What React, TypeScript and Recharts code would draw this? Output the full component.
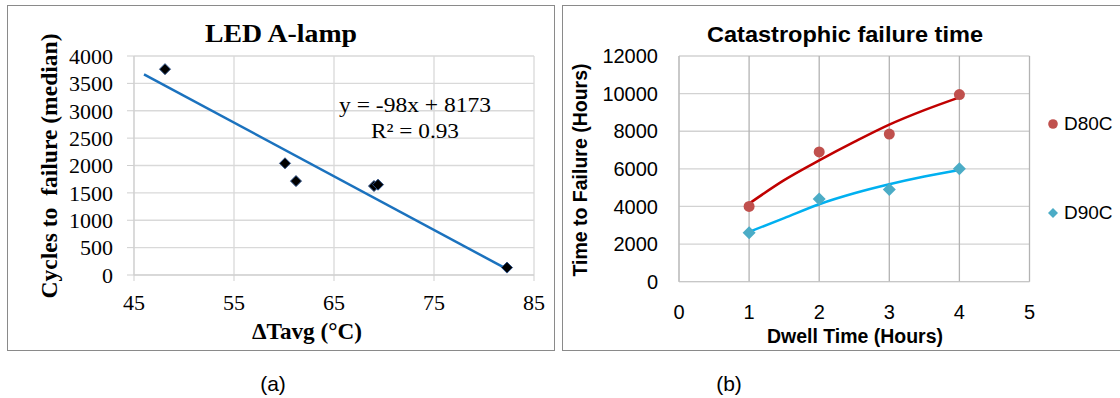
import React from "react";
import {
    ScatterChart,
    Scatter,
    XAxis,
    YAxis,
    CartesianGrid,
    Legend,
    Customized,
} from "recharts";

// (a) LED A-lamp
const deltaTavg = [48.1, 60.1, 61.2, 69.0, 69.4, 82.3];
const cyclesToFailure = [3760, 2040, 1715, 1625, 1650, 135];
const fitDeltaT = [46, 82.3];
const fitCycles = [3665, 107];
const ticksA_x = [45, 55, 65, 75, 85];
const ticksA_y = [0, 500, 1000, 1500, 2000, 2500, 3000, 3500, 4000];

// (b) Catastrophic failure time
const dwellHours = [1, 2, 3, 4];
const d80c = [4000, 6900, 7850, 9950];
const d90c = [2600, 4400, 4900, 6000];
const trendHours = [1, 1.5, 2, 2.5, 3, 3.5, 4];
const d80cTrend = [4150, 5400, 6450, 7430, 8350, 9120, 9800];
const d90cTrend = [2650, 3380, 4120, 4700, 5180, 5590, 5940];
const ticksB_x = [0, 1, 2, 3, 4, 5];
const ticksB_y = [0, 2000, 4000, 6000, 8000, 10000, 12000];

const SERIF = '"Liberation Serif", "Times New Roman", serif';
const SANS = '"Liberation Sans", Arial, sans-serif';

const zip = (xs: number[], ys: number[]) => xs.map((x, i) => ({ x, y: ys[i] }));

const ledData = zip(deltaTavg, cyclesToFailure);
const ledFit = zip(fitDeltaT, fitCycles);
const d80cData = zip(dwellHours, d80c);
const d90cData = zip(dwellHours, d90c);
const d80cLine = zip(trendHours, d80cTrend);
const d90cLine = zip(trendHours, d90cTrend);

const diamond = (r: number, fill: string, stroke?: string) => (props: any) => {
    const { cx, cy } = props;
    return (
        <path
            d={`M${cx},${cy - r}L${cx + r},${cy}L${cx},${cy + r}L${cx - r},${cy}Z`}
            fill={fill}
            stroke={stroke || "none"}
            strokeWidth={1}
        />
    );
};

const dot = (r: number, fill: string) => (props: any) => (
    <circle cx={props.cx} cy={props.cy} r={r} fill={fill} />
);

const noShape = () => <g />;

const TextsA = () => (
    <g fontFamily={SERIF} fill="#000">
        <text x={274} y={37} textAnchor="middle" fontSize={26} fontWeight="bold"
            textLength={152} lengthAdjust="spacingAndGlyphs">LED A-lamp</text>
        <text transform="translate(50,161) rotate(-90)" textAnchor="middle" fontSize={24}
            fontWeight="bold" style={{ whiteSpace: "pre" }} textLength={265}
            lengthAdjust="spacingAndGlyphs">Cycles to  failure (median)</text>
        <text x={300} y={334} textAnchor="middle" fontSize={23} fontWeight="bold"
            textLength={110} lengthAdjust="spacingAndGlyphs">ΔTavg (°C)</text>
        <text x={408} y={107} textAnchor="middle" fontSize={21}
            textLength={152} lengthAdjust="spacingAndGlyphs">y = -98x + 8173</text>
        <text x={408} y={133} textAnchor="middle" fontSize={21}
            textLength={88} lengthAdjust="spacingAndGlyphs">R² = 0.93</text>
    </g>
);

const TextsB = () => (
    <g fontFamily={SANS} fill="#000" fontWeight="bold">
        <text x={283} y={37} textAnchor="middle" fontSize={22}
            textLength={276} lengthAdjust="spacingAndGlyphs">Catastrophic failure time</text>
        <text transform="translate(25,165) rotate(-90)" textAnchor="middle" fontSize={20}
            textLength={213} lengthAdjust="spacingAndGlyphs">Time to Failure (Hours)</text>
        <text x={293} y={338} textAnchor="middle" fontSize={20}
            textLength={176} lengthAdjust="spacingAndGlyphs">Dwell Time (Hours)</text>
    </g>
);

const LegendB = (props: any) => {
    const items = (props.payload || []).filter((p: any) => p.type !== "none");
    return (
        <div style={{ fontFamily: SANS, fontSize: 19, color: "#000" }}>
            {items.map((p: any, i: number) => (
                <div key={p.value} style={{ display: "flex", alignItems: "center", height: 22, marginBottom: 67 }}>
                    <svg width={12} height={12} style={{ marginRight: 5 }}>
                        {i === 0 ? (
                            <circle cx={6} cy={6} r={4.8} fill="#C0504D" />
                        ) : (
                            <path d="M6,1L11,6L6,11L1,6Z" fill="#4BACC6" />
                        )}
                    </svg>
                    <span>{p.value}</span>
                </div>
            ))}
        </div>
    );
};

const panelBorder = (left: number, width: number): React.CSSProperties => ({
    position: "absolute",
    left,
    top: 5,
    width,
    height: 346,
    border: "1.5px solid #8a8a8a",
    boxSizing: "border-box",
    pointerEvents: "none",
});

const caption: React.CSSProperties = {
    position: "absolute",
    top: 372,
    width: 60,
    textAlign: "center",
    fontFamily: SANS,
    fontSize: 21,
    color: "#000",
};

export default function App() {
    return (
        <div style={{ position: "absolute", left: 0, top: 0, width: 1120, height: 398, overflow: "hidden", background: "#fff" }}>
            <div style={{ position: "absolute", left: 7, top: 5 }}>
                <ScatterChart width={548} height={346} margin={{ top: 51, right: 21, left: 0, bottom: 0 }}>
                    <CartesianGrid stroke="#d9d9d9" strokeWidth={1.3} />
                    <XAxis
                        type="number"
                        dataKey="x"
                        domain={[45, 85]}
                        ticks={ticksA_x}
                        interval={0}
                        height={76}
                        tickSize={6}
                        tickMargin={13}
                        stroke="#cfcfcf"
                        tick={{ fill: "#000", fontSize: 22, fontFamily: SERIF }}
                    />
                    <YAxis
                        type="number"
                        dataKey="y"
                        domain={[0, 4000]}
                        ticks={ticksA_y}
                        interval={0}
                        width={127}
                        tickSize={7}
                        tickMargin={14}
                        stroke="#cfcfcf"
                        tick={{ fill: "#000", fontSize: 22, fontFamily: SERIF }}
                    />
                    <Scatter
                        data={ledFit}
                        line={{ stroke: "#1b72be", strokeWidth: 2.5 }}
                        shape={noShape}
                        legendType="none"
                        isAnimationActive={false}
                    />
                    <Scatter
                        data={ledData}
                        shape={diamond(5.5, "#000", "#2b4f86")}
                        isAnimationActive={false}
                    />
                    <Customized component={<TextsA />} />
                </ScatterChart>
            </div>
            <div style={panelBorder(7, 548)} />

            <div style={{ position: "absolute", left: 562, top: 5 }}>
                <ScatterChart width={600} height={346} margin={{ top: 51, right: 132.5, left: 0, bottom: 0 }}>
                    <CartesianGrid stroke="#d2d2d2" strokeWidth={1.3} vertical={false} />
                    <CartesianGrid stroke="#b3b3b3" strokeWidth={1.3} horizontal={false} />
                    <XAxis
                        type="number"
                        dataKey="x"
                        domain={[0, 5]}
                        ticks={ticksB_x}
                        interval={0}
                        height={69.3}
                        tickLine={false}
                        tickSize={0}
                        tickMargin={23}
                        stroke="#c4c4c4"
                        tick={{ fill: "#000", fontSize: 20, fontFamily: SANS }}
                    />
                    <YAxis
                        type="number"
                        dataKey="y"
                        domain={[0, 12000]}
                        ticks={ticksB_y}
                        interval={0}
                        width={117}
                        tickLine={false}
                        tickSize={0}
                        tickMargin={21}
                        stroke="#c4c4c4"
                        tick={{ fill: "#000", fontSize: 20, fontFamily: SANS }}
                    />
                    <Scatter
                        data={d80cLine}
                        line={{ stroke: "#C00000", strokeWidth: 2.5 }}
                        lineJointType="monotoneX"
                        shape={noShape}
                        legendType="none"
                        isAnimationActive={false}
                    />
                    <Scatter
                        data={d90cLine}
                        line={{ stroke: "#00B0F0", strokeWidth: 2.5 }}
                        lineJointType="monotoneX"
                        shape={noShape}
                        legendType="none"
                        isAnimationActive={false}
                    />
                    <Scatter
                        name="D80C"
                        data={d80cData}
                        fill="#C0504D"
                        shape={dot(5.5, "#C0504D")}
                        isAnimationActive={false}
                    />
                    <Scatter
                        name="D90C"
                        data={d90cData}
                        fill="#4BACC6"
                        shape={diamond(6.5, "#4BACC6")}
                        isAnimationActive={false}
                    />
                    <Legend
                        layout="vertical"
                        align="center"
                        verticalAlign="middle"
                        content={LegendB}
                        wrapperStyle={{ left: 485, top: 108, width: 90, height: 180 }}
                    />
                    <Customized component={<TextsB />} />
                </ScatterChart>
            </div>
            <div style={panelBorder(562, 600)} />

            <div style={{ ...caption, left: 243 }}>(a)</div>
            <div style={{ ...caption, left: 699 }}>(b)</div>
        </div>
    );
}
